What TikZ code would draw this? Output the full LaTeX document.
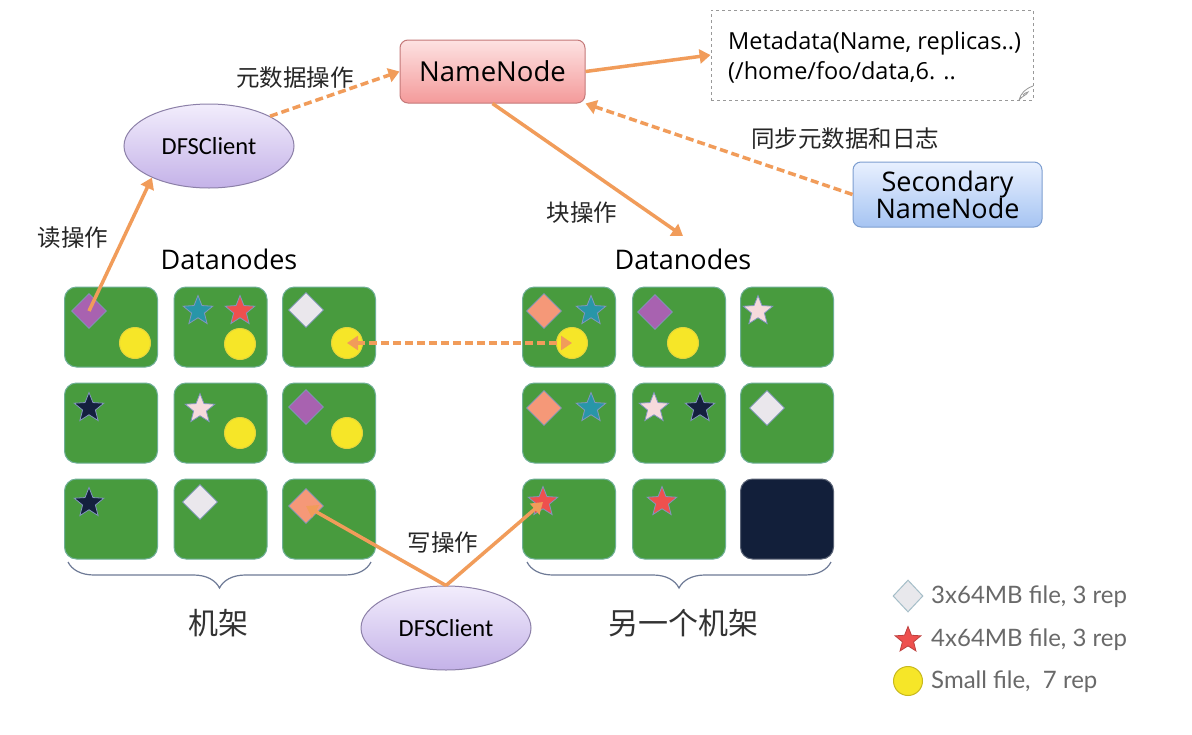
\documentclass[tikz,border=0pt]{standalone}
\usepackage{fontspec}
\newfontfamily\cjk{Noto Sans CJK SC}
\newfontfamily\latf{Open Sans}
\newfontfamily\calfont{Carlito}
\newfontfamily\legfont{Lato}
\usetikzlibrary{shapes.geometric,arrows.meta,decorations.pathreplacing}
\definecolor{arrc}{RGB}{241,156,90}
\definecolor{boxgreen}{RGB}{72,155,62}
\definecolor{boxedge}{RGB}{110,175,150}
\definecolor{navybox}{RGB}{18,31,58}
\definecolor{dpurple}{RGB}{168,98,176}
\definecolor{dlight}{RGB}{234,231,236}
\definecolor{dsalmon}{RGB}{245,152,120}
\definecolor{steal}{RGB}{40,150,168}
\definecolor{sred}{RGB}{238,80,78}
\definecolor{snavy}{RGB}{20,32,62}
\definecolor{spink}{RGB}{246,218,220}
\definecolor{cyel}{RGB}{246,230,40}
\definecolor{cyeledge}{RGB}{226,212,60}
\definecolor{shedge}{RGB}{130,150,190}
\definecolor{bracec}{RGB}{110,122,150}
\definecolor{legtext}{RGB}{105,105,105}
\tikzset{
  arr/.style={draw=arrc, line width=3.5pt, -{Triangle[width=14pt,length=11pt]}},
  darr/.style={arr, dash pattern=on 8pt off 4pt},
  nnbox/.style={rectangle, rounded corners=8pt, minimum width=185pt, minimum height=63pt,
    top color={rgb,255:red,253;green,226;blue,226}, bottom color={rgb,255:red,244;green,154;blue,154},
    draw={rgb,255:red,196;green,120;blue,120}, line width=1pt, font=\latf\fontsize{27.5}{30}\selectfont},
  secbox/.style={rectangle, rounded corners=8pt, minimum width=189pt, minimum height=65pt,
    top color={rgb,255:red,232;green,240;blue,255}, bottom color={rgb,255:red,166;green,196;blue,242},
    draw={rgb,255:red,125;green,158;blue,208}, line width=1pt, align=center,
    font=\latf\fontsize{27}{29}\selectfont},
  client/.style={ellipse, minimum width=170pt, minimum height=84pt, inner sep=0pt,
    top color={rgb,255:red,242;green,237;blue,252}, bottom color={rgb,255:red,196;green,178;blue,232},
    draw={rgb,255:red,140;green,128;blue,168}, line width=1pt, font=\calfont\fontsize{24.5}{26}\selectfont},
  lab/.style={font=\cjk\fontsize{23.5}{26}\selectfont, text=black!85, inner sep=0pt},
  rack/.style={font=\cjk\fontsize{30}{34}\selectfont, text=black!80, inner sep=0pt},
  dnlab/.style={font=\latf\fontsize{27}{30}\selectfont, inner sep=0pt},
  dn/.style={rectangle, rounded corners=12pt, minimum width=93pt, minimum height=80pt,
    fill=boxgreen, draw=boxedge, line width=1pt, inner sep=0pt},
  dnd/.style={dn, fill=navybox, draw=navybox!70!white},
  dia/.style={diamond, minimum width=35pt, minimum height=35pt, inner sep=0pt, line width=0.8pt, fill=#1, draw=shedge},
  st/.style={star, star points=5, star point ratio=2.3, minimum size=31pt, inner sep=0pt, line width=0.8pt, fill=#1, draw=shedge},
  cir/.style={circle, minimum size=31pt, inner sep=0pt, fill=cyel, draw=cyeledge, line width=1pt},
  brc/.style={draw=bracec, line width=1.2pt, decorate, decoration={brace, mirror, amplitude=26pt}},
  leg/.style={font=\legfont\fontsize{24}{28}\selectfont, text=legtext, inner sep=0pt, anchor=west}
}
\begin{document}
\begin{tikzpicture}[x=1pt,y=-1pt]
\useasboundingbox[fill=white] (0,0) rectangle (1192,734);

% top nodes
\node[nnbox] (nn) at (492.5,71.5) {NameNode};
\node[rectangle, draw=gray!80, dashed, line width=0.8pt, minimum width=322pt, minimum height=90pt] (meta) at (872,55) {};
\node[font=\latf\fontsize{23.5}{30}\selectfont, align=left, anchor=west, inner sep=0pt] (metatext) at (728,57)
  {Metadata(Name, replicas..)\\(/home/foo/data,6. ..};
\draw[gray!80, line width=0.8pt] (1019,100) .. controls (1021,93) and (1025,89) .. (1033,86)
  (1019,100) .. controls (1022,96) and (1027,95) .. (1028,92) .. controls (1026,93) and (1024,93) .. (1023,95);
\node[secbox] (sec) at (947.5,194.5) {Secondary\\[-2pt]NameNode};
\node[client] (dfs1) at (209,146) {DFSClient};
\node[client] (dfs2) at (446,628) {DFSClient};

% labels
\node[lab] (l1) at (295,78) {元数据操作};
\node[lab] (l2) at (845,139) {同步元数据和日志};
\node[lab] (l3) at (73,238) {读操作};
\node[lab] (l4) at (582,213) {块操作};
\node[lab] (l5) at (443,543) {写操作};
\node[dnlab] (dl) at (229,259) {Datanodes};
\node[dnlab] (dr) at (683,259) {Datanodes};
\node[rack] (r1) at (218,623) {机架};
\node[rack] (r2) at (683,623) {另一个机架};

% left rack
\node[dn] (L11) at (111,327) {};
\node[dn] (L12) at (220.5,327) {};
\node[dn] (L13) at (329,327) {};
\node[dn] (L21) at (111,423) {};
\node[dn] (L22) at (220.5,423) {};
\node[dn] (L23) at (329,423) {};
\node[dn] (L31) at (111,519) {};
\node[dn] (L32) at (220.5,519) {};
\node[dn] (L33) at (329,519) {};
% right rack
\node[dn] (R11) at (569,327) {};
\node[dn] (R12) at (679,327) {};
\node[dn] (R13) at (787,327) {};
\node[dn] (R21) at (569,423) {};
\node[dn] (R22) at (679,423) {};
\node[dn] (R23) at (787,423) {};
\node[dn] (R31) at (569,519) {};
\node[dn] (R32) at (679,519) {};
\node[dnd] (R33) at (787,519) {};

% contents left
\node[dia=dpurple] (L11d) at (89,311) {};
\node[cir] (L11c) at (135,343) {};
\node[st=steal] (L12s1) at (198,311) {};
\node[st=sred] (L12s2) at (240,311) {};
\node[cir] (L12c) at (240,344) {};
\node[dia=dlight] (L13d) at (306,310) {};
\node[cir] (L13c) at (347,343) {};
\node[st=snavy] (L21s) at (89,408) {};
\node[st=spink] (L22s) at (200,409) {};
\node[cir] (L22c) at (240,433) {};
\node[dia=dpurple] (L23d) at (306,407) {};
\node[cir] (L23c) at (347,433) {};
\node[st=snavy] (L31s) at (89,503) {};
\node[dia=dlight] (L32d) at (200,502) {};
\node[dia=dsalmon] (L33d) at (306,506) {};
% contents right
\node[dia=dsalmon] (R11d) at (544,311) {};
\node[st=steal] (R11s) at (591,311) {};
\node[cir] (R11c) at (572,343) {};
\node[dia=dpurple] (R12d) at (655,312) {};
\node[cir] (R12c) at (683,343) {};
\node[st=spink] (R13s) at (758,311) {};
\node[dia=dsalmon] (R21d) at (544,408) {};
\node[st=steal] (R21s) at (591,408) {};
\node[st=spink] (R22s1) at (654,408) {};
\node[st=snavy] (R22s2) at (700,408) {};
\node[dia=dlight] (R23d) at (767,408) {};
\node[st=sred] (R31s) at (543,502) {};
\node[st=sred] (R32s) at (662,502) {};

% braces
\draw[brc] (68,562) -- (371,562);
\draw[brc] (527,562) -- (831,562);

% connectors
\coordinate (blk) at (683,236);
\draw[arr] (L11d.center) -- (dfs1.209);
\draw[darr] (dfs1.26) -- (nn.west);
\draw[arr] (nn.east) -- (meta.west);
\draw[darr] (sec.west) -- (nn.south east);
\draw[arr] (nn.south) -- (blk);
\draw[arrc, line width=3.5pt, dash pattern=on 8pt off 4pt, {Triangle[width=14pt,length=11pt]}-{Triangle[width=14pt,length=11pt]}] (L13c.center) -- (R11c.center);
\draw[arr] (dfs2.north) -- (L33d.center);
\draw[arr] (dfs2.north) -- (R31s.center);

% legend
\node[diamond, minimum width=30pt, minimum height=32pt, inner sep=0pt, fill={rgb,255:red,232;green,232;blue,236}, draw={rgb,255:red,165;green,190;blue,200}, line width=1pt] (kd) at (908,596) {};
\node[st=sred, minimum size=27pt, draw=sred!80!black] (ks) at (908,640) {};
\node[cir, minimum size=29pt, draw={rgb,255:red,200;green,185;blue,30}] (kc) at (908,681) {};
\node[leg] (kt1) at (931,597) {3x64MB file, 3 rep};
\node[leg] (kt2) at (931,640) {4x64MB file, 3 rep};
\node[leg] (kt3) at (931,682) {Small file,\ \ 7 rep};
\end{tikzpicture}
\end{document}
